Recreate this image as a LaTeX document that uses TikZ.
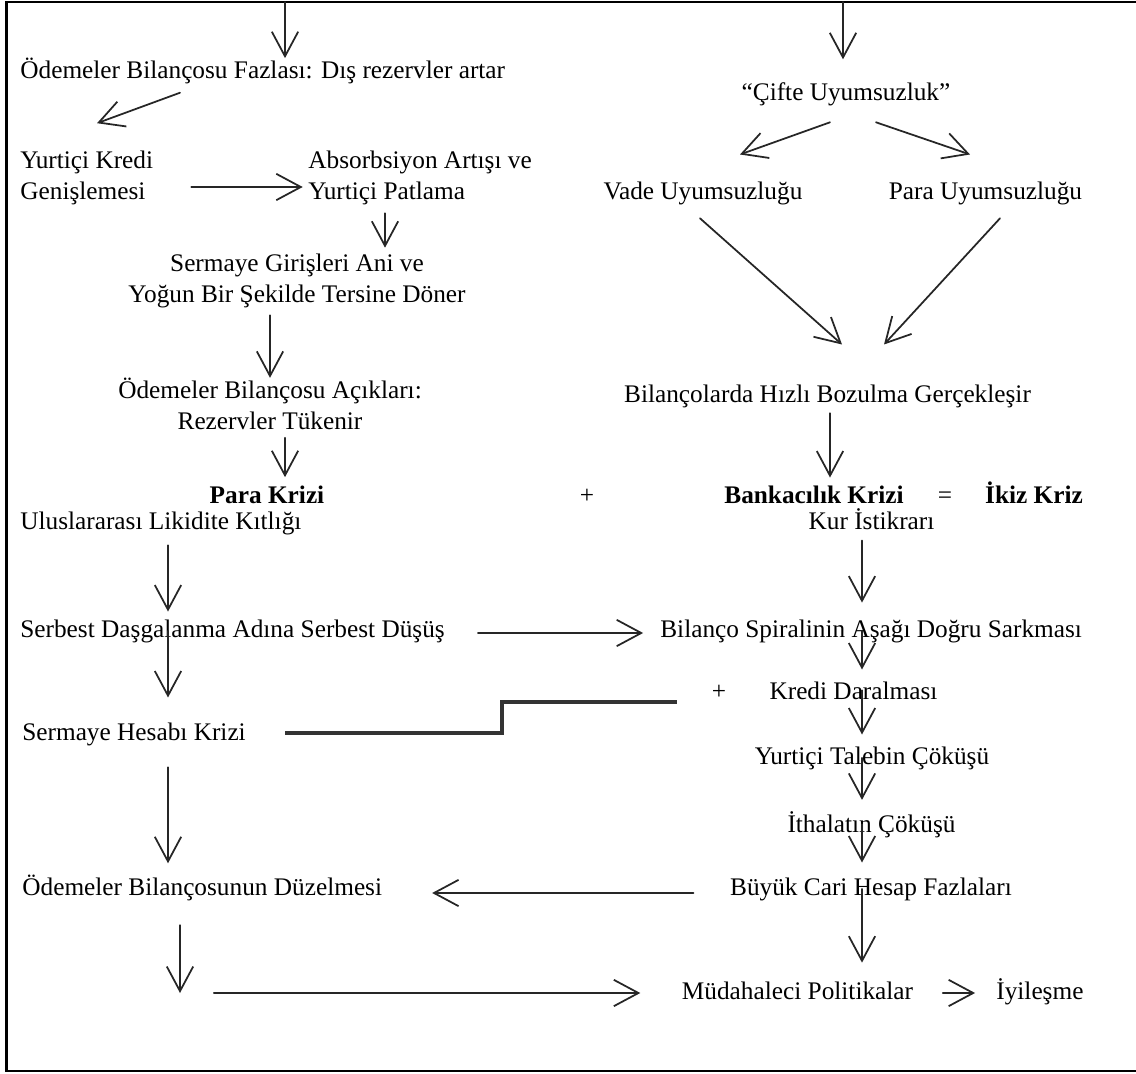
\documentclass[tikz,border=0pt]{standalone}
\usepackage{fontspec}
\setmainfont{Liberation Serif}
\usetikzlibrary{arrows.meta,calc}
\newcommand\diagfont{\fontsize{14.4pt}{17.6pt}\selectfont}
\begin{document}
\begin{tikzpicture}[x=0.02cm, y=-0.02cm,
  lbl/.style={inner sep=0pt, font=\diagfont, text=black},
  blbl/.style={inner sep=0pt, font=\diagfont\bfseries, text=black},
  arr/.style={-{Straight Barb[length=14pt,width=15pt,line width=1pt]}, line width=1pt, draw=black!85, line cap=round},
  frame/.style={line width=1.5pt, draw=black},
  joinline/.style={line width=1.8pt, draw=black!80}]
\useasboundingbox (0,0) rectangle (1136,1074);
\draw[frame] (1136,2) -- (6.5,2) -- (6.5,1071) -- (1136,1071);

% ---- nodes ----
\node[lbl, anchor=base west] (t1) at (20,79) {Ödemeler Bilançosu Fazlası: Dış rezervler artar};
\node[lbl, anchor=west, align=left] (ykr) at (20,177.5) {Yurtiçi Kredi\\Genişlemesi};
\node[lbl, anchor=west, align=left] (abs) at (308,177.5) {Absorbsiyon Artışı ve\\Yurtiçi Patlama};
\node[lbl, align=center] (serm) at (297,281) {Sermaye Girişleri Ani ve\\Yoğun Bir Şekilde Tersine Döner};
\node[lbl, align=center] (obac) at (270,404) {Ödemeler Bilançosu Açıkları:\\Rezervler Tükenir};
\node[blbl, anchor=base] (pk) at (267,503) {Para Krizi};
\node[lbl, anchor=base] (pl1) at (587,503) {+};
\node[lbl, anchor=base] (cif) at (846,101) {“Çifte Uyumsuzluk”};
\node[lbl, anchor=base] (vade) at (703,200) {Vade Uyumsuzluğu};
\node[lbl, anchor=base] (paru) at (985.5,200) {Para Uyumsuzluğu};
\node[lbl, anchor=base] (bil) at (827.5,402) {Bilançolarda Hızlı Bozulma Gerçekleşir};
\node[blbl, anchor=base] (bk) at (814,503) {Bankacılık Krizi};
\node[lbl, anchor=base] (eq) at (945,503) {=};
\node[blbl, anchor=base] (ikiz) at (1034,503) {İkiz Kriz};
\node[lbl, anchor=base west] (lik) at (20,529) {Uluslararası Likidite Kıtlığı};
\node[lbl, anchor=base] (kur) at (871.5,529) {Kur İstikrarı};
\node[lbl, anchor=base west] (serb) at (20,637) {Serbest Daşgalanma Adına Serbest Düşüş};
\node[lbl, anchor=base west] (spir) at (660,637) {Bilanço Spiralinin Aşağı Doğru Sarkması};
\node[lbl, anchor=base west] (shk) at (22,740) {Sermaye Hesabı Krizi};
\node[lbl, anchor=base] (pl2) at (719,699) {+};
\node[lbl, anchor=base] (kredi) at (853.5,699) {Kredi Daralması};
\node[lbl, anchor=base] (talep) at (872,764) {Yurtiçi Talebin Çöküşü};
\node[lbl, anchor=base] (ithal) at (871.5,832) {İthalatın Çöküşü};
\node[lbl, anchor=base] (buyuk) at (871,895) {Büyük Cari Hesap Fazlaları};
\node[lbl, anchor=base west] (obd) at (22,895) {Ödemeler Bilançosunun Düzelmesi};
\node[lbl, anchor=base] (mud) at (797.5,999) {Müdahaleci Politikalar};
\node[lbl, anchor=base west] (iyi) at (996,999) {İyileşme};

\coordinate (topL) at (285,2);
\coordinate (topR) at (843,2);
\coordinate (loop) at (180,993);

% ---- left column ----
\draw[arr] (topL) -- (t1.north -| topL);
\draw[arr] ($(t1.south west)+(160,8)$) -- ($(ykr.north west)+(77,-27)$);
\draw[arr, shorten <=21.5pt, shorten >=3pt] (ykr.east |- 0,187) -- (abs.west |- 0,187);
\draw[arr, shorten <=4.8pt, shorten >=3.4pt] (abs.south -| 385,0) -- (serm.north -| 385,0);
\draw[arr, shorten <=4pt] (serm.south -| 270,0) -- (obac.north -| 270,0);
\draw[arr, shorten <=4.3pt, shorten >=4.5pt] (obac.south -| 285,0) -- (pk.north -| 285,0);
\draw[arr, shorten <=6pt, shorten >=4.3pt] (lik.south -| 168,0) -- (serb.north -| 168,0);
\draw[arr, shorten <=18.7pt, shorten >=9.6pt] (serb.east |- 0,633) -- (spir.west |- 0,633);
\draw[arr, shorten >=14pt] (serb.center -| 168,0) -- (shk.north -| 168,0);
\draw[joinline] ($(shk.east |- 0,733)+(39,0)$) -- (502,733) |- ($(pl2.west |- 0,702)+(-35,0)$);
\draw[arr, shorten <=12.2pt, shorten >=6.2pt] (shk.south -| 168,0) -- (obd.north -| 168,0);
\draw[arr, shorten <=13.9pt] (obd.south -| loop) -- (loop);
\draw[arr, shorten <=19.3pt, shorten >=23.5pt] (loop) -- (mud.west |- loop);

% ---- right column ----
\draw[arr, shorten >=13.4pt] (topR) -- (cif.north -| topR);
\draw[arr] ($(cif.south)+(-16,15.5)$) -- ($(vade.north)+(37,-27.6)$);
\draw[arr] ($(cif.south)+(30,15.5)$) -- ($(paru.north)+(-15.5,-27.6)$);
\draw[arr] ($(vade.south)+(-3,12.5)$) -- ($(bil.north)+(14.5,-39.6)$);
\draw[arr] ($(paru.south)+(14.5,12.5)$) -- ($(bil.north)+(56.5,-39.6)$);
\draw[arr, shorten <=3.1pt, shorten >=4.3pt] (bil.south -| 830,0) -- (bk.north -| 830,0);
\draw[arr, shorten <=6.2pt, shorten >=9.4pt] (kur.south -| 862,0) -- (spir.north -| 862,0);
\draw[arr, shorten >=6.6pt] (spir.center -| 862,0) -- (kredi.north -| 862,0);
\draw[arr, shorten >=6.6pt] (kredi.center -| 862,0) -- (talep.north -| 862,0);
\draw[arr, shorten >=6.2pt] (talep.center -| 862,0) -- (ithal.north -| 862,0);
\draw[arr, shorten >=8.3pt] (ithal.center -| 862,0) -- (buyuk.north -| 862,0);
\draw[arr, shorten <=20.7pt, shorten >=28.3pt] (buyuk.west |- 0,893) -- (obd.east |- 0,893);
\draw[arr, shorten >=10.5pt] (buyuk.center -| 862,0) -- (mud.north -| 862,0);
\draw[arr, shorten <=16.7pt, shorten >=11.9pt] (mud.east |- 0,993) -- (iyi.west |- 0,993);
\end{tikzpicture}
\end{document}
